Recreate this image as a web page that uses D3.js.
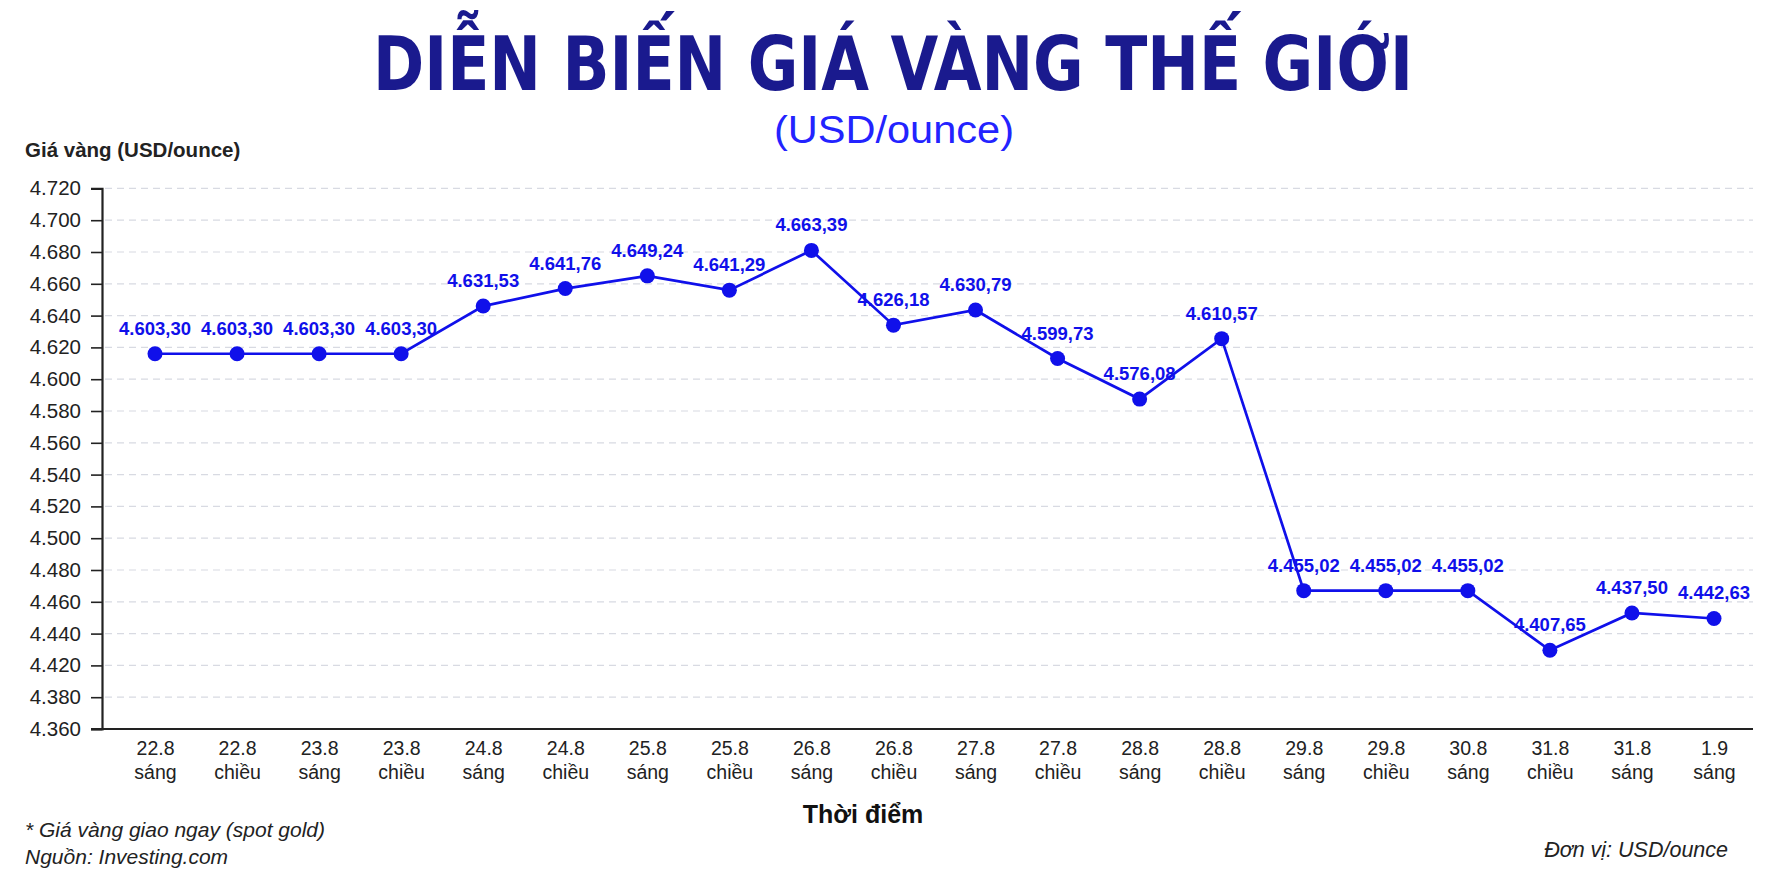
<!DOCTYPE html>
<html>
<head>
<meta charset="utf-8">
<script src="https://cdn.jsdelivr.net/npm/d3@7"></script>
<style>
  html, body { margin: 0; padding: 0; background: #fff; }
  text { font-family: "Liberation Sans", Arial, sans-serif; }
</style>
</head>
<body>
<div id="root"></div>
<script>
// DATA
const days = ["22.8", "22.8", "23.8", "23.8", "24.8", "24.8", "25.8", "25.8", "26.8", "26.8",
              "27.8", "27.8", "28.8", "28.8", "29.8", "29.8", "30.8", "31.8", "31.8", "1.9"];
const sessions = ["sáng", "chiều", "sáng", "chiều", "sáng", "chiều", "sáng", "chiều", "sáng", "chiều",
                  "sáng", "chiều", "sáng", "chiều", "sáng", "chiều", "sáng", "chiều", "sáng", "sáng"];
// plotted positions
const prices = [4616, 4616, 4616, 4616, 4646, 4657, 4665, 4656, 4681, 4634,
                4643.5, 4613, 4587.5, 4625.5, 4467, 4467, 4467, 4429.5, 4453, 4449.5];
// printed value labels
const priceLabels = ["4.603,30", "4.603,30", "4.603,30", "4.603,30", "4.631,53", "4.641,76", "4.649,24",
                     "4.641,29", "4.663,39", "4.626,18", "4.630,79", "4.599,73", "4.576,08", "4.610,57",
                     "4.455,02", "4.455,02", "4.455,02", "4.407,65", "4.437,50", "4.442,63"];
const yTicks = [4720, 4700, 4680, 4660, 4640, 4620, 4600, 4580, 4560, 4540,
                4520, 4500, 4480, 4460, 4440, 4420, 4380, 4360];

//DIMENSIONS
const width = 1774, height = 887;
const axisX = 102, axisRight = 1753;
const bottom = 729, step = 31.8;

const svg = d3.select('#root')
  .append('svg')
  .attr('width', width)
  .attr('height', height);

const blue = '#1010ea';
const navy = '#1a1a8e';

//SCALES
const x = d3.scalePoint()
  .domain(d3.range(days.length))
  .range([155, 1714]);

// ticks are evenly spaced on the picture (4.400 is skipped), so the scale is piecewise
const yDomain = yTicks.slice().reverse();
const y = d3.scaleLinear()
  .domain(yDomain)
  .range(yDomain.map((d, i) => bottom - i * step));

//TITLES
svg.append('text')
  .attr('x', 893).attr('y', 90)
  .attr('text-anchor', 'middle')
  .attr('textLength', 1040)
  .attr('lengthAdjust', 'spacingAndGlyphs')
  .style('font-family', '"Liberation Sans Narrow", "DejaVu Sans Condensed", sans-serif')
  .style('font-weight', 'bold')
  .style('font-size', '74px')
  .attr('fill', navy)
  .text('DIỄN BIẾN GIÁ VÀNG THẾ GIỚI');

svg.append('text')
  .attr('x', 894).attr('y', 143)
  .attr('text-anchor', 'middle')
  .attr('textLength', 240)
  .attr('lengthAdjust', 'spacingAndGlyphs')
  .style('font-size', '38px')
  .attr('fill', '#2323ff')
  .text('(USD/ounce)');

svg.append('text')
  .attr('x', 25).attr('y', 157)
  .style('font-size', '20.5px')
  .style('font-weight', 'bold')
  .attr('fill', '#222')
  .text('Giá vàng (USD/ounce)');

//GRIDLINES
svg.append('g')
  .selectAll('line')
  .data(yTicks)
  .join('line')
  .attr('x1', axisX + 3).attr('x2', axisRight)
  .attr('y1', d => y(d)).attr('y2', d => y(d))
  .attr('stroke', '#d8dae2')
  .attr('stroke-width', 1.2)
  .attr('stroke-dasharray', '7,5');

//Y AXIS
const yAxis = svg.append('g')
  .attr('transform', `translate(${axisX},0)`)
  .call(d3.axisLeft(y)
    .tickValues(yTicks)
    .tickSize(11)
    .tickPadding(10)
    .tickFormat(d => d3.format(',')(d).replace(',', '.')));
yAxis.select('.domain').attr('stroke', '#222').attr('stroke-width', 2.2);
yAxis.selectAll('.tick line').attr('stroke', '#222').attr('stroke-width', 1.6);
yAxis.selectAll('.tick text')
  .style('font-family', '"Liberation Sans", Arial, sans-serif')
  .style('font-size', '20.5px')
  .attr('fill', '#222');

//X AXIS
svg.append('line')
  .attr('x1', axisX - 11).attr('x2', axisRight)
  .attr('y1', bottom).attr('y2', bottom)
  .attr('stroke', '#222')
  .attr('stroke-width', 2.2);

const xAxis = svg.append('g')
  .attr('transform', `translate(0,${bottom})`)
  .call(d3.axisBottom(x).tickSize(0).tickFormat(''));
xAxis.select('.domain').remove();
const xt = xAxis.selectAll('.tick').append('text')
  .attr('text-anchor', 'middle')
  .style('font-size', '19.5px')
  .attr('fill', '#222');
xt.append('tspan').attr('x', 0).attr('y', 26).text(i => days[i]);
xt.append('tspan').attr('x', 0).attr('y', 50).text(i => sessions[i]);

svg.append('text')
  .attr('x', 863).attr('y', 823)
  .attr('text-anchor', 'middle')
  .style('font-size', '25px')
  .style('font-weight', 'bold')
  .attr('fill', '#111')
  .text('Thời điểm');

//LINE
const line = d3.line()
  .x((d, i) => x(i))
  .y(d => y(d));

svg.append('path')
  .datum(prices)
  .attr('fill', 'none')
  .attr('stroke', blue)
  .attr('stroke-width', 2.7)
  .attr('d', line);

svg.append('g')
  .selectAll('circle')
  .data(prices)
  .join('circle')
  .attr('cx', (d, i) => x(i))
  .attr('cy', d => y(d))
  .attr('r', 7.5)
  .attr('fill', blue);

svg.append('g')
  .selectAll('text')
  .data(prices)
  .join('text')
  .attr('x', (d, i) => x(i))
  .attr('y', d => y(d) - 19)
  .attr('text-anchor', 'middle')
  .style('font-size', '18.5px')
  .style('font-weight', 'bold')
  .attr('fill', blue)
  .text((d, i) => priceLabels[i]);

//NOTES
svg.append('text')
  .attr('x', 25).attr('y', 837)
  .style('font-size', '21px')
  .style('font-style', 'italic')
  .attr('fill', '#222')
  .text('* Giá vàng giao ngay (spot gold)');

svg.append('text')
  .attr('x', 25).attr('y', 864)
  .style('font-size', '21px')
  .style('font-style', 'italic')
  .attr('fill', '#222')
  .text('Nguồn: Investing.com');

svg.append('text')
  .attr('x', 1728).attr('y', 857)
  .attr('text-anchor', 'end')
  .style('font-size', '21.5px')
  .style('font-style', 'italic')
  .attr('fill', '#222')
  .text('Đơn vị: USD/ounce');
</script>
</body>
</html>
